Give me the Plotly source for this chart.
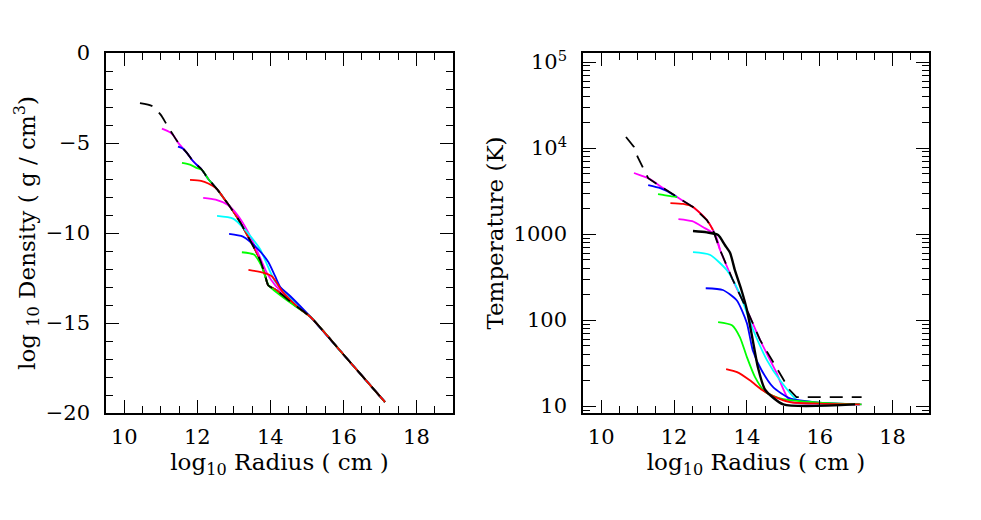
import plotly.graph_objects as go

# ---------------- Left panel: log10 density vs log10 radius ----------------
env_d_x = [10.43, 10.76, 11.0, 11.14, 11.34, 11.5, 11.72, 11.88, 12.13, 12.3, 12.54, 12.7, 12.9,
           13.05, 13.2, 13.39, 13.55, 13.72, 13.85, 13.94, 14.18, 14.6, 15.09, 16.0, 17.14]
env_d_y = [-2.78, -2.94, -3.44, -3.9, -4.56, -5.05, -5.56, -6.0, -6.5, -7.0, -7.56, -8.0, -8.56,
           -9.0, -9.5, -10.2, -10.8, -11.5, -12.3, -12.9, -13.2, -13.9, -14.65, -16.75, -19.4]

tail_d_x = [16.0, 17.14]
tail_d_y = [-16.75, -19.4]

mag1_d_x = [11.03, 11.25]
mag1_d_y = [-4.2, -4.4]
blu1_d_x = [11.47, 11.6]
blu1_d_y = [-5.2, -5.3]
grn1_d_x = [11.58, 11.8, 12.0]
grn1_d_y = [-6.1, -6.2, -6.4]
red1_d_x = [11.8, 12.1, 12.3]
red1_d_y = [-7.05, -7.1, -7.25]
mag2_d_x = [12.16, 12.5, 12.84, 13.1, 13.35, 13.66, 13.9, 14.13, 14.6, 15.09]
mag2_d_y = [-8.05, -8.15, -8.45, -9.0, -9.8, -11.1, -12.2, -12.9, -13.8, -14.65]
cyn_d_x = [12.54, 12.98, 13.3, 13.72, 13.94, 14.13, 14.6, 15.09]
cyn_d_y = [-9.05, -9.2, -9.8, -10.9, -11.9, -12.7, -13.7, -14.65]
blu2_d_x = [12.87, 13.25, 13.64, 13.94, 14.13, 14.27, 14.54, 15.09]
blu2_d_y = [-10.05, -10.2, -10.85, -11.6, -12.4, -13.0, -13.5, -14.65]
grn2_d_x = [13.22, 13.55, 13.75, 13.95, 14.2, 14.6, 15.09]
grn2_d_y = [-11.07, -11.2, -11.8, -12.9, -13.35, -13.95, -14.65]
red2_d_x = [13.4, 13.8, 14.04, 14.35, 14.8, 15.09]
red2_d_y = [-12.05, -12.2, -12.4, -13.3, -14.2, -14.65]

# ---------------- Right panel: temperature vs log10 radius ----------------
env_t_x = [10.68, 10.9, 11.0, 11.13, 11.29, 11.7, 12.08, 12.52, 12.9, 13.07, 13.26, 13.6, 14.0,
           14.36, 15.17, 15.36, 17.15]
env_t_logT = [4.128, 4.012, 3.896, 3.78, 3.65, 3.535, 3.43, 3.314, 3.163, 3.047, 2.82, 2.48, 2.12,
              1.77, 1.19, 1.105, 1.105]

mag1_t_x = [10.9, 11.1, 11.29, 11.7, 12.08, 12.52, 12.9, 13.07, 13.26, 13.6, 14.0, 14.36, 14.8, 15.2, 16.0, 17.15]
mag1_t_logT = [3.71, 3.68, 3.65, 3.535, 3.43, 3.314, 3.163, 3.047, 2.82, 2.48, 2.12, 1.77, 1.4, 1.05, 1.03, 1.02]
blu1_t_x = [11.29, 11.62, 11.8, 12.08]
blu1_t_logT = [3.57, 3.535, 3.5, 3.43]
grn1_t_x = [11.56, 11.7, 11.9, 12.08]
grn1_t_logT = [3.465, 3.455, 3.44, 3.43]
red1_t_x = [11.9, 12.25, 12.52, 12.9, 13.07]
red1_t_logT = [3.36, 3.35, 3.314, 3.163, 3.047]
mag2_t_x = [12.12, 12.5, 12.8, 13.13, 13.26]
mag2_t_logT = [3.175, 3.15, 3.08, 2.99, 2.82]
blk_t_x = [12.52, 12.9, 13.21, 13.4, 13.54, 13.67, 13.85, 14.0, 14.16, 14.3, 14.5, 15.0, 16.97]
blk_t_logT = [3.035, 3.02, 2.99, 2.87, 2.78, 2.58, 2.35, 2.12, 1.77, 1.455, 1.19, 1.02, 1.02]
cyn_t_x = [12.52, 12.98, 13.45, 13.8, 14.14, 14.55, 14.91, 15.38, 16.0, 17.1]
cyn_t_logT = [2.79, 2.76, 2.58, 2.31, 1.92, 1.535, 1.30, 1.07, 1.03, 1.02]
blu2_t_x = [12.87, 13.34, 13.72, 14.0, 14.16, 14.4, 14.72, 15.18, 16.0, 17.1]
blu2_t_logT = [2.37, 2.35, 2.23, 1.965, 1.65, 1.42, 1.22, 1.09, 1.04, 1.02]
grn2_t_x = [13.21, 13.59, 13.81, 14.0, 14.22, 14.5, 15.0, 16.0, 17.15]
grn2_t_logT = [1.977, 1.94, 1.80, 1.57, 1.34, 1.165, 1.08, 1.04, 1.02]
red2_t_x = [13.43, 13.73, 14.08, 14.42, 14.72, 15.18, 16.0, 17.1]
red2_t_logT = [1.43, 1.395, 1.30, 1.186, 1.116, 1.047, 1.03, 1.02]

T_tickvals = [10, 100, 1000, 1e4, 1e5]
T_ticktext = ["10", "100", "1000", "10<sup>4</sup>", "10<sup>5</sup>"]

MAG, BLU, GRN, RED, CYN = "#ff00ff", "#0000ff", "#00ff00", "#ff0000", "#00ffff"


def join_env(xs, ys, ex, ey):
    """Continue a curve along the envelope from its last x onward."""
    last = xs[-1]
    ox = list(xs) + [x for x in ex if x > last + 1e-9]
    oy = list(ys) + [y for x, y in zip(ex, ey) if x > last + 1e-9]
    return ox, oy


fig = go.Figure()


def line(x, y, color, xa, ya, width=1.8, dash=None):
    fig.add_trace(go.Scatter(x=x, y=y, mode="lines", xaxis=xa, yaxis=ya, showlegend=False,
                             line=dict(color=color, width=width, dash=dash, shape="spline",
                                       smoothing=0.6), hoverinfo="skip"))


# Left panel
for xs, ys, c in [(mag1_d_x, mag1_d_y, MAG), (blu1_d_x, blu1_d_y, BLU), (grn1_d_x, grn1_d_y, GRN),
                  (red1_d_x, red1_d_y, RED)]:
    ox, oy = join_env(xs, ys, env_d_x, env_d_y)
    line(ox, oy, c, "x", "y")
for xs, ys, c in [(mag2_d_x, mag2_d_y, MAG), (cyn_d_x, cyn_d_y, CYN), (blu2_d_x, blu2_d_y, BLU),
                  (grn2_d_x, grn2_d_y, GRN), (red2_d_x, red2_d_y, RED)]:
    ox, oy = join_env(xs, ys, tail_d_x, tail_d_y)
    line(ox, oy, c, "x", "y")
line(env_d_x, env_d_y, "black", "x", "y", width=1.8, dash="13px,9px")

# Right panel
def T(v):
    return [10 ** a for a in v]

line(mag1_t_x, T(mag1_t_logT), MAG, "x2", "y2")
for xs, ys, c in [(blu1_t_x, blu1_t_logT, BLU), (grn1_t_x, grn1_t_logT, GRN),
                  (red1_t_x, red1_t_logT, RED), (mag2_t_x, mag2_t_logT, MAG)]:
    line(xs, T(ys), c, "x2", "y2")
for xs, ys, c in [(cyn_t_x, cyn_t_logT, CYN), (blu2_t_x, blu2_t_logT, BLU),
                  (grn2_t_x, grn2_t_logT, GRN), (red2_t_x, red2_t_logT, RED)]:
    line(xs, T(ys), c, "x2", "y2")
line(blk_t_x, T(blk_t_logT), "black", "x2", "y2", width=2.4)
fig.add_trace(go.Scatter(x=env_t_x, y=T(env_t_logT), mode="lines", xaxis="x2", yaxis="y2",
                         showlegend=False, hoverinfo="skip",
                         line=dict(color="black", width=1.8, dash="13px,9px")))

FONT = "DejaVu Serif"
FS = 21   # tick labels
FT = 23   # axis titles
axis_common = dict(showline=True, linecolor="black", linewidth=1.5, mirror="allticks",
                   ticks="inside", ticklen=13, tickwidth=1.3, tickcolor="black",
                   showgrid=False, zeroline=False,
                   tickfont=dict(family=FONT, size=FS, color="black"),
                   automargin=False)
minor_lin = dict(ticks="inside", ticklen=7, tickwidth=1.3, tickcolor="black", showgrid=False)

xcommon = dict(axis_common, range=[9.5, 19], tick0=10, dtick=2,
               minor=dict(minor_lin, dtick=0.5),
               title=dict(text="log<sub>10</sub> Radius ( cm )",
                          font=dict(family=FONT, size=FT, color="black"), standoff=2),
               ticklabelstandoff=4)

# page is offset by the 8px body margin, so figure coords = page coords - 8
fig.update_layout(
    width=981, height=520,
    paper_bgcolor="white", plot_bgcolor="white",
    margin=dict(l=0, r=0, t=45, b=115),
    xaxis=dict(xcommon, domain=[98 / 981, 445 / 981], anchor="y"),
    yaxis=dict(axis_common, range=[-20, 0], dtick=5, anchor="x",
               minor=dict(minor_lin, dtick=1),
               ticklabelstandoff=10,
               title=dict(text="log <sub>10</sub> Density ( g / cm<sup>3</sup>)",
                          font=dict(family=FONT, size=FT, color="black"), standoff=4)),
    xaxis2=dict(xcommon, domain=[575 / 981, 921 / 981], anchor="y2"),
    yaxis2=dict(axis_common, type="log", range=[0.92, 5.105], anchor="x2",
                tickvals=T_tickvals, ticktext=T_ticktext,
                minor=dict(minor_lin, dtick="D1"),
                ticklabelstandoff=10,
                title=dict(text="Temperature (K)",
                           font=dict(family=FONT, size=FT, color="black"), standoff=4)),
)

fig.write_html("out.html")
